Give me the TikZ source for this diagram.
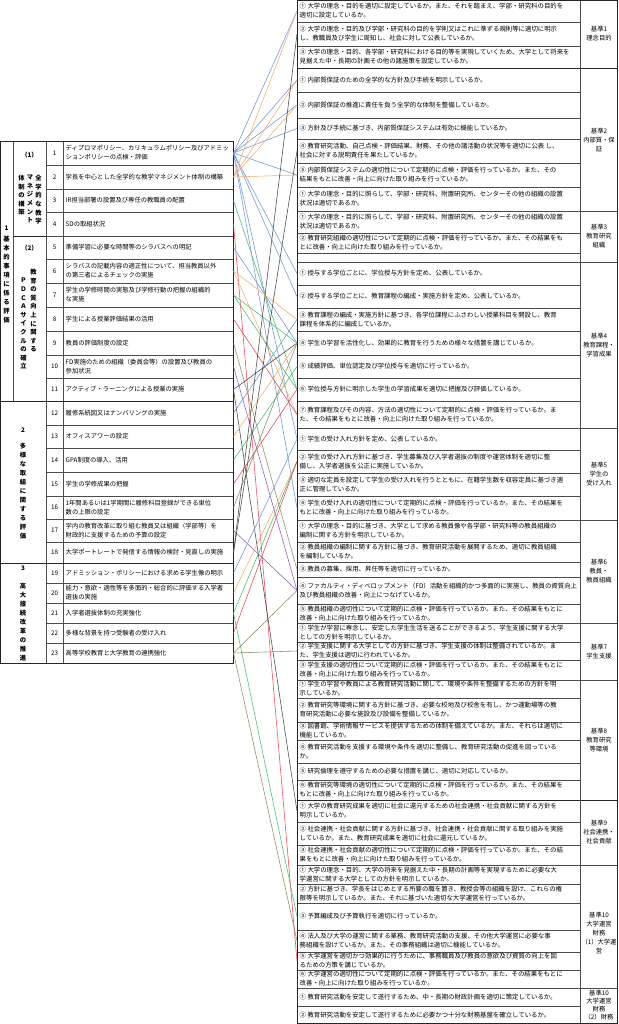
\documentclass[tikz,border=0pt]{standalone}
\usepackage{fontspec}
\setmainfont{Noto Sans CJK JP}
\usepackage[dvipsnames]{xcolor}
\usetikzlibrary{calc}
\definecolor{lnblue}{RGB}{110,150,215}
\definecolor{lnorange}{RGB}{247,170,110}
\definecolor{lngreen}{RGB}{70,190,110}
\definecolor{lnred}{RGB}{240,70,80}
\definecolor{lnpurple}{RGB}{140,90,190}
\definecolor{lnolive}{RGB}{140,140,100}
\definecolor{lnblack}{RGB}{70,70,70}
\begin{document}
\begin{tikzpicture}[x=1pt,y=-1pt,
    txt/.style={font=\fontsize{6.3}{9}\selectfont,inner sep=0pt,align=left},
    rtxt/.style={font=\fontsize{6.4}{9}\selectfont,inner sep=0pt,align=left},
    lbl/.style={font=\fontsize{6.3}{9}\selectfont,inner sep=0pt,align=center},
    vtx/.style={font=\fontsize{6.3}{8.6}\selectfont\bfseries,inner sep=0pt,align=center},
    vtxw/.style={font=\fontsize{6.3}{9}\selectfont\bfseries,inner sep=0pt,align=center},
    grid/.style={draw=black!70,line width=.4pt},
    frame/.style={draw=black!85,line width=.9pt},
    conn/.style={line width=.55pt}]
    \useasboundingbox[fill=white] (0,0) rectangle (618,1024);
    \foreach \rw/\ya/\yb/\tx in {
        1/141/165/{ディプロマポリシー、カリキュラムポリシー及びアドミッ\\ションポリシーの点検・評価},
        2/165/189/{学長を中心とした全学的な教学マネジメント体制の構築},
        3/189/212/{IR担当部署の設置及び専任の教職員の配置},
        4/212/236/{SDの取組状況},
        5/236/259/{準備学習に必要な時間等のシラバスへの明記},
        6/259/283/{シラバスの記載内容の適正性について、担当教員以外\\の第三者によるチェックの実施},
        7/283/307/{学生の学修時間の実態及び学修行動の把握の組織的\\な実施},
        8/307/331/{学生による授業評価結果の活用},
        9/331/355/{教員の評価制度の設定},
        10/355/378/{FD実施のための組織（委員会等）の設置及び教員の\\参加状況},
        11/378/401/{アクティブ・ラーニングによる授業の実施},
        12/401/425/{履修系統図又はナンバリングの実施},
        13/425/448/{オフィスアワーの設定},
        14/448/472/{GPA制度の導入、活用},
        15/472/496/{学生の学修成果の把握},
        16/496/519/{1年間あるいは1学期間に履修科目登録ができる単位\\数の上限の設定},
        17/519/542/{学内の教育改革に取り組む教員又は組織（学部等）を\\財政的に支援するための予算の設定},
        18/542/563/{大学ポートレートで発信する情報の検討・見直しの実施},
        19/563/583/{アドミッション・ポリシーにおける求める学生像の明示},
        20/583/603/{能力・意欲・適性等を多面的・総合的に評価する入学者\\選抜の実施},
        21/603/623/{入学者選抜体制の充実強化},
        22/623/643/{多様な背景を持つ受験者の受け入れ},
        23/643/663/{高等学校教育と大学教育の連携強化}} {
        \draw[grid] (46,\yb) -- (233.5,\yb);
        \node[lbl] (n\rw) at (54.5,{(\ya+\yb)/2}) {\rw};
        \node[txt,anchor=west] (l\rw) at (65.5,{(\ya+\yb)/2}) {\tx};
        \coordinate (l\rw-out) at (233.5,{(\ya+\yb)/2});
    }
    \draw[grid] (13,141) -- (13,401);
    \draw[grid] (46,141) -- (46,663);
    \draw[grid] (63,141) -- (63,663);
    \draw[frame] (13,236) -- (46,236);
    \draw[frame] (0,401) -- (233.5,401);
    \draw[frame] (0,563) -- (233.5,563);
    \draw[frame] (0,141) rectangle (233.5,663);
    \node[vtx] (g1num) at (6.5,228) {1};
    \node[vtxw,anchor=north] (g1) at (6.5,236) {基\\本\\的\\事\\項\\に\\係\\る\\評\\価};
    \node[vtx] (s1num) at (29.5,155) {（1）};
    \node[vtx,anchor=north] (s1a) at (38.5,175) {全\\学\\的\\な\\教\\学};
    \node[vtx,anchor=north] (s1b) at (30,175) {マ\\ネ\\ジ\\メ\\ン\\ト};
    \node[vtx,anchor=north] (s1c) at (21.5,175) {体\\制\\の\\構\\築};
    \node[vtx] (s2num) at (29.5,248) {（2）};
    \node[vtx,anchor=north] (s2a) at (33.5,269) {教\\育\\の\\質\\向\\上\\に\\関\\す\\る};
    \node[vtx,anchor=north] (s2b) at (23.5,278) {Ｐ\\Ｄ\\Ｃ\\Ａ\\サ\\イ\\ク\\ル\\の\\確\\立};
    \node[vtx] (g2num) at (23,430) {2};
    \node[vtxw,anchor=north] (g2) at (23,443) {多\\様\\な\\取\\組\\に\\関\\す\\る\\評\\価};
    \node[vtx] (g3num) at (23,568) {3};
    \node[vtxw,anchor=north] (g3) at (23,583) {高\\大\\接\\続\\改\\革\\の\\推\\進};
    \foreach \nm/\ya/\yb/\tx in {
        r1-1/0/22/{① 大学の理念・目的を適切に設定しているか。また、それを踏まえ、学部・研究科の目的を\\適切に設定しているか。},
        r1-2/22/46/{② 大学の理念・目的及び学部・研究科の目的を学則又はこれに準ずる規則等に適切に明示\\し、教職員及び学生に周知し、社会に対して公表しているか。},
        r1-3/46/68/{③ 大学の理念・目的、各学部・研究科における目的等を実現していくため、大学として将来を\\見据えた中・長期の計画その他の諸施策を設定しているか。},
        r2-1/68/92/{① 内部質保証のための全学的な方針及び手続を明示しているか。},
        r2-2/92/118/{② 内部質保証の推進に責任を負う全学的な体制を整備しているか。},
        r2-3/118/139/{③ 方針及び手続に基づき、内部質保証システムは有効に機能しているか。},
        r2-4/139/163/{④ 教育研究活動、自己点検・評価結果、財務、その他の諸活動の状況等を適切に公表 し、\\社会に対する説明責任を果たしているか。},
        r2-5/163/187/{⑤ 内部質保証システムの適切性について定期的に点検・評価を行っているか。また、その\\結果をもとに改善・向上に向けた取り組みを行っているか。},
        r2-6/187/211/{① 大学の理念・目的に照らして、学部・研究科、附置研究所、センターその他の組織の設置\\状況は適切であるか。},
        r3-1/211/233/{① 大学の理念・目的に照らして、学部・研究科、附置研究所、センターその他の組織の設置\\状況は適切であるか。},
        r3-2/233/253/{② 教育研究組織の適切性について定期的に点検・評価を行っているか。また、その結果をも\\とに改善・向上に向けた取り組みを行っているか。},
        r4-1/262/285/{① 授与する学位ごとに、学位授与方針を定め、公表しているか。},
        r4-2/285/308/{② 授与する学位ごとに、教育課程の編成・実施方針を定め、公表しているか。},
        r4-3/308/331/{③ 教育課程の編成・実施方針に基づき、各学位課程にふさわしい授業科目を開設し、教育\\課程を体系的に編成しているか。},
        r4-4/331/355/{④ 学生の学習を活性化し、効果的に教育を行うための様々な措置を講じているか。},
        r4-5/355/378/{⑤ 成績評価、単位認定及び学位授与を適切に行っているか。},
        r4-6/378/401/{⑥ 学位授与方針に明示した学生の学習成果を適切に把握及び評価しているか。},
        r4-7/401/428/{⑦ 教育課程及びその内容、方法の適切性について定期的に点検・評価を行っているか。ま\\た、その結果をもとに改善・向上に向けた取り組みを行っているか。},
        r5-1/428/450/{① 学生の受け入れ方針を定め、公表しているか。},
        r5-2/450/473/{② 学生の受け入れ方針に基づき、学生募集及び入学者選抜の制度や運営体制を適切に整\\備し、入学者選抜を公正に実施しているか。},
        r5-3/473/496/{③ 適切な定員を設定して学生の受け入れを行うとともに、在籍学生数を収容定員に基づき適\\正に管理しているか。},
        r5-4/496/520/{④ 学生の受け入れの適切性について定期的に点検・評価を行っているか。また、その結果を\\もとに改善・向上に向けた取り組みを行っているか。},
        r6-1/520/542/{① 大学の理念・目的に基づき、大学として求める教員像や各学部・研究科等の教員組織の\\編制に関する方針を明示しているか。},
        r6-2/542/562/{② 教員組織の編制に関する方針に基づき、教育研究活動を展開するため、適切に教員組織\\を編制しているか。},
        r6-3/562/577/{③ 教員の募集、採用、昇任等を適切に行っているか。},
        r6-4/577/604/{④ ファカルティ・ディベロップメント（FD）活動を組織的かつ多面的に実施し、教員の資質向上\\及び教員組織の改善・向上につなげているか。},
        r6-5/604/623/{⑤ 教員組織の適切性について定期的に点検・評価を行っているか。また、その結果をもとに\\改善・向上に向けた取り組みを行っているか。},
        r7-1/623/642/{① 学生が学習に専念し、安定した学生生活を送ることができるよう、学生支援に関する大学\\としての方針を明示しているか。},
        r7-2/642/660/{② 学生支援に関する大学としての方針に基づき、学生支援の体制は整備されているか。ま\\た、学生支援は適切に行われているか。},
        r7-3/660/680/{③ 学生支援の適切性について定期的に点検・評価を行っているか。また、その結果をもとに\\改善・向上に向けた取り組みを行っているか。},
        r8-1/680/698/{① 学生の学習や教員による教育研究活動に関して、環境や条件を整備するための方針を明\\示しているか。},
        r8-2/698/722/{② 教育研究等環境に関する方針に基づき、必要な校地及び校舎を有し、かつ運動場等の教\\育研究活動に必要な施設及び設備を整備しているか。},
        r8-3/722/740/{③ 図書館、学術情報サービスを提供するための体制を備えているか。また、それらは適切に\\機能しているか。},
        r8-4/740/763/{④ 教育研究活動を支援する環境や条件を適切に整備し、教育研究活動の促進を図っている\\か。},
        r8-5/763/780/{⑤ 研究倫理を遵守するための必要な措置を講じ、適切に対応しているか。},
        r8-6/780/800/{⑥ 教育研究等環境の適切性について定期的に点検・評価を行っているか。また、その結果を\\もとに改善・向上に向けた取り組みを行っているか。},
        r9-1/800/822/{① 大学の教育研究成果を適切に社会に還元するための社会連携・社会貢献に関する方針を\\明示しているか。},
        r9-2/822/845/{② 社会連携・社会貢献に関する方針に基づき、社会連携・社会貢献に関する取り組みを実施\\しているか。また、教育研究成果を適切に社会に還元しているか。},
        r9-3/845/865/{③ 社会連携・社会貢献の適切性について定期的に点検・評価を行っているか。また、その結\\果をもとに改善・向上に向けた取り組みを行っているか。},
        r10-1/865/884/{① 大学の理念・目的、大学の将来を見据えた中・長期の計画等を実現するために必要な大\\学運営に関する大学としての方針を明示しているか。},
        r10-2/884/903/{② 方針に基づき、学長をはじめとする所要の職を置き、教授会等の組織を設け、これらの権\\限等を明示しているか。また、それに基づいた適切な大学運営を行っているか。},
        r10-3/903/930/{③ 予算編成及び予算執行を適切に行っているか。},
        r10-4/930/952/{④ 法人及び大学の運営に関する業務、教育研究活動の支援、その他大学運営に必要な事\\務組織を設けているか。また、その事務組織は適切に機能しているか。},
        r10-5/952/970/{⑤ 大学運営を適切かつ効果的に行うために、事務職員及び教員の意欲及び資質の向上を図\\るための方策を講じているか。},
        r10-6/970/988/{⑥ 大学運営の適切性について定期的に点検・評価を行っているか。また、その結果をもとに\\改善・向上に向けた取り組みを行っているか。},
        r11-1/988/1006/{① 教育研究活動を安定して遂行するため、中・長期の財政計画を適切に策定しているか。},
        r11-2/1006/1023.5/{② 教育研究活動を安定して遂行するために必要かつ十分な財務基盤を確立しているか。}} {
        \draw[grid] (297,\yb) -- (580,\yb);
        \node[rtxt,anchor=west] (\nm) at (299.5,{(\ya+\yb)/2}) {\tx};
        \coordinate (\nm-in) at (297,{(\ya+\yb)/2});
    }
    \foreach \y in {211,262,428,520,623,680,865,988}
        \draw[grid,line width=.6pt] (297,\y) -- (617.5,\y);
    \draw[frame] (297,68) -- (617.5,68);
    \draw[frame] (297,800) -- (617.5,800);
    \draw[grid] (580,.5) -- (580,1023.5);
    \draw[frame] (297,.5) rectangle (617.5,1023.5);
    \node[lbl] (b1) at (599,34) {基準1\\理念目的};
    \node[lbl] (b2) at (599,140) {基準2\\内部質・保\\証};
    \node[lbl] (b3) at (599,236.5) {基準3\\教育研究\\組織};
    \node[lbl] (b4) at (599,345) {基準4\\教育課程・\\学習成果};
    \node[lbl] (b5) at (599,474) {基準5\\学生の\\受け入れ};
    \node[lbl] (b6) at (599,571.5) {基準6\\教員・\\教員組織};
    \node[lbl] (b7) at (599,651.5) {基準7\\学生支援};
    \node[lbl] (b8) at (599,740) {基準8\\教育研究\\等環境};
    \node[lbl] (b9) at (599,832.5) {基準9\\社会連携・\\社会貢献};
    \node[lbl] (b10) at (599,933) {基準10\\大学運営\\財務\\（1）大学運\\営};
    \node[lbl,font=\fontsize{6.3}{8}\selectfont] (b11) at (599,1005.5) {基準10\\大学運営\\財務\\（2）財務};
    \foreach \a/\b/\c in {
        l1/r1-1/lnblue, l1/r2-1/lnblue, l1/r2-2/lnblue, l1/r2-3/lnblue, l1/r2-5/lnblue,
        l1/r4-1/lnblue, l1/r4-2/lnblue, l1/r5-1/lnblue, l1/r5-4/lnblue,
        l2/r1-1/lnorange, l2/r2-1/lnorange, l2/r2-2/lnorange, l2/r2-5/lnorange,
        l3/r4-6/lngreen, l4/r10-5/lnred, l5/r4-4/lnblue,
        l6/r4-3/lnorange, l6/r4-7/lnorange, l7/r4-4/lngreen, l7/r4-6/lngreen,
        l8/r4-7/lnred, l9/r6-3/lnolive, l10/r6-4/lnpurple,
        l11/r4-4/lnblack, l11/r9-1/lnblack, l12/r4-3/lnblue, l13/r4-4/lnorange,
        l14/r4-5/lngreen, l15/r4-6/lnred, l16/r4-4/lnolive, l17/r6-4/lnpurple,
        l18/r1-2/lnblack, l18/r2-4/lnblack, l19/r5-1/lnblue, l20/r5-2/lnorange,
        l21/r5-2/lngreen, l21/r10-3/lngreen, l22/r5-2/lnred,
        l23/r6-4/lnolive, l23/r7-2/lnolive, l23/r10-4/lnolive}
        \draw[conn,draw=\c] (\a-out) -- (\b-in);
\end{tikzpicture}
\end{document}
